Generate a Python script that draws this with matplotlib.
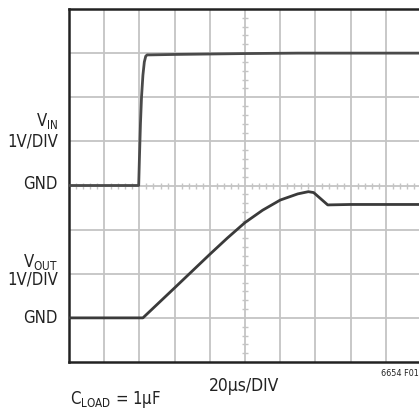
import numpy as np
import matplotlib.pyplot as plt

# trace data, in scope divisions (x: 20us/div, y: 1V/div, 8 divisions tall)
vin_t = [0, 1.98, 2.0, 2.03, 2.06, 2.1, 2.14, 2.18, 2.22, 2.3, 3.0, 4.0, 5.0, 6.5, 10.0]
vin_v = [4.0, 4.0, 4.6, 5.4, 6.0, 6.5, 6.8, 6.93, 6.96, 6.96, 6.97, 6.98, 6.99, 7.0, 7.0]

vout_t = [0, 2.1, 3.0, 4.0, 4.5, 5.0, 5.5, 6.0, 6.5, 6.8, 6.95, 7.35, 8.0, 10.0]
vout_v = [1.0, 1.0, 1.68, 2.44, 2.81, 3.16, 3.44, 3.67, 3.81, 3.86, 3.84, 3.56, 3.57, 3.57]

W, H = 419, 411
fig = plt.figure(figsize=(W / 100, H / 100), dpi=100)
plt.rcParams['font.family'] = ['DejaVu Sans']
plt.rcParams['font.stretch'] = 'condensed'

# axes spans pixel x 69..421, y 9..362
ax = fig.add_axes([69 / W, (H - 362) / H, 352 / W, 353 / H])
ax.set_xlim(0, 10)
ax.set_ylim(0, 8)

grid_c = '#c4c4c4'
for gx in range(1, 10):
    ax.axvline(gx, color=grid_c, lw=1.3, zorder=1)
for gy in range(1, 8):
    ax.axhline(gy, color=grid_c, lw=1.3, zorder=1)

# minor ticks on the centre lines
minor = np.arange(0.2, 10, 0.2)
minor = minor[np.abs(minor - np.round(minor)) > 0.05]
ax.plot(minor, np.full_like(minor, 4.0), ls='none', marker='|', ms=5,
        mew=1.0, color=grid_c, zorder=1)
minor_y = minor[minor < 8]
ax.plot(np.full_like(minor_y, 5.0), minor_y, ls='none', marker='_', ms=5,
        mew=1.0, color=grid_c, zorder=1)

ax.plot(vin_t, vin_v, color='#4a4a4a', lw=2.0, zorder=3)
ax.plot(vout_t, vout_v, color='#3a3a3a', lw=2.0, zorder=3)

ax.set_xticks([])
ax.set_yticks([])
for side in ['left', 'top', 'bottom']:
    ax.spines[side].set_linewidth(1.8)
    ax.spines[side].set_color('#222222')
ax.spines['right'].set_visible(False)


def fx(px):
    return px / W


def fy(py):
    return 1 - py / H


lab = dict(ha='right', va='center', fontsize=12, color='#222222')
fig.text(fx(58), fy(121), r'V$_\mathregular{IN}$', **lab)
fig.text(fx(58), fy(141), '1V/DIV', **lab)
fig.text(fx(58), fy(184), 'GND', **lab)
fig.text(fx(58), fy(262), r'V$_\mathregular{OUT}$', **lab)
fig.text(fx(58), fy(280), '1V/DIV', **lab)
fig.text(fx(58), fy(318), 'GND', **lab)

fig.text(fx(209), fy(386), '20µs/DIV', ha='left', va='center',
         fontsize=12.5, color='#222222')
fig.text(fx(70), fy(404), r'C$_\mathregular{LOAD}$ = 1µF', ha='left',
         va='baseline', fontsize=12, color='#222222')
fig.text(fx(419), fy(373), '6654 F01', ha='right', va='center',
         fontsize=6.5, color='#222222')

fig.savefig('out.png', dpi=100)
